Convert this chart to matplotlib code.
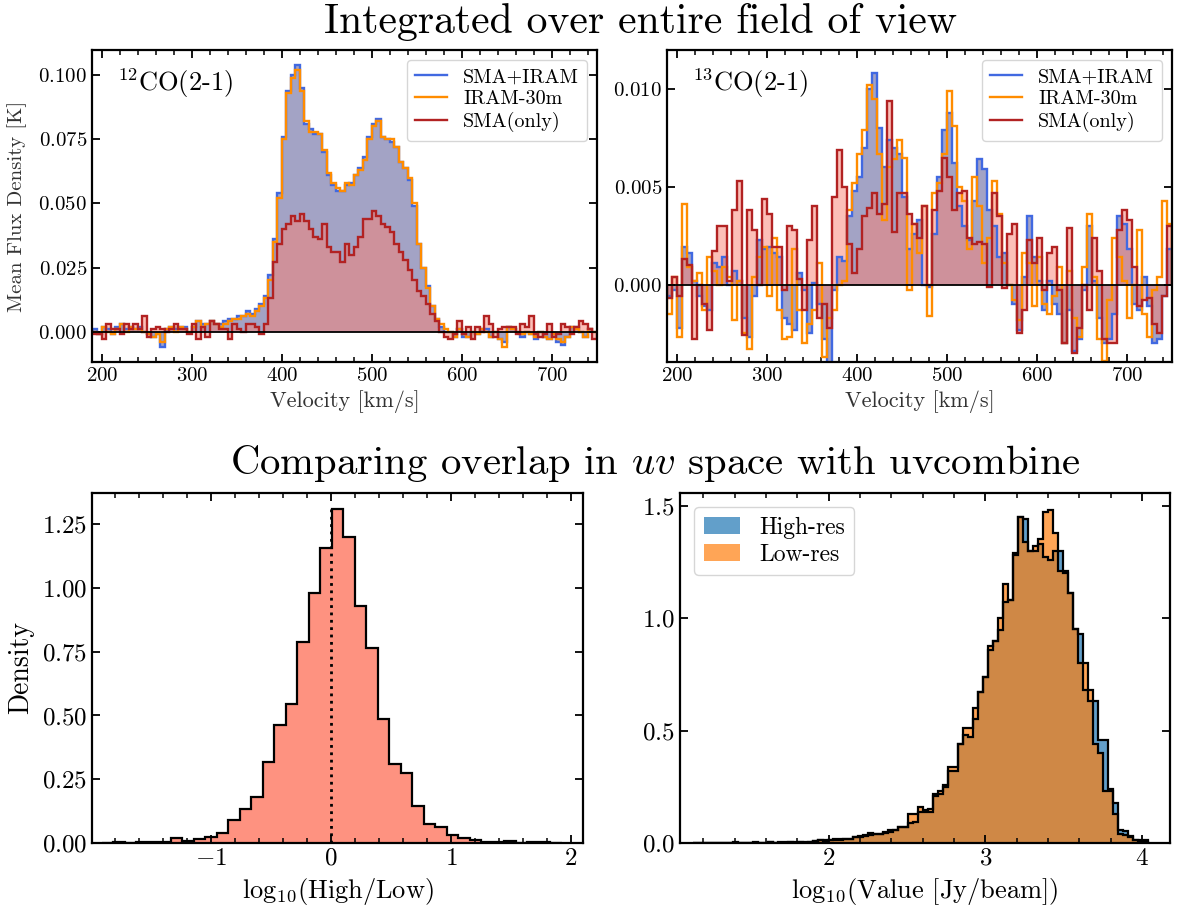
import numpy as np
import matplotlib
matplotlib.use("Agg")
import matplotlib.pyplot as plt
from matplotlib.ticker import MultipleLocator

plt.rcParams.update({
    "font.family": "serif",
    "font.serif": ["cmr10"],
    "mathtext.fontset": "cm",
    "axes.formatter.use_mathtext": True,
    "axes.unicode_minus": True,
})

# ---------------- data ----------------
# 12CO(2-1) spectra, 5 km/s channels from 190 to 750 km/s
co12_vel_start = 190.0
co12_chan_width = 5.0
co12_comb = [
    0.001, -0.001, 0.002, 0.001, -0.001, 0.002, 0.003, 0.001, 0.002, 0.001,
    0.002, 0.000, -0.001, -0.002, -0.001, -0.006, 0.001, 0.002, 0.001, 0.002,
    0.002, 0.000, 0.002, 0.004, 0.003, 0.003, 0.004, 0.003, 0.003, 0.004,
    0.005, 0.005, 0.006, 0.006, 0.008,
    0.007, 0.009, 0.011, 0.014, 0.022, 0.036, 0.054, 0.076, 0.094, 0.100,
    0.104, 0.095, 0.081, 0.079, 0.077, 0.077, 0.070, 0.061, 0.057, 0.055,
    0.055, 0.057, 0.058, 0.061, 0.064, 0.068, 0.076, 0.081, 0.083, 0.076,
    0.075, 0.074, 0.072, 0.066, 0.064, 0.059, 0.049, 0.034, 0.025, 0.018,
    0.010, 0.005, 0.002, 0.000,
    0.000, -0.002, 0.001, -0.002, -0.002, 0.000, -0.001, 0.001, 0.001, -0.002,
    0.000, -0.003, -0.004, 0.002, 0.001, 0.000, -0.002, 0.000, -0.001, -0.003,
    0.000, -0.002, -0.003, -0.001, -0.004, -0.005, -0.002, 0.002, 0.002, 0.000,
    -0.002, 0.001, 0.000,
]
co12_iram = [
    0.000, -0.001, 0.002, 0.000, -0.001, 0.001, 0.003, 0.000, 0.002, 0.001,
    0.001, 0.000, -0.001, -0.002, -0.001, -0.004, 0.001, 0.002, 0.000, 0.002,
    0.001, 0.000, 0.002, 0.004, 0.002, 0.003, 0.004, 0.003, 0.002, 0.003,
    0.004, 0.005, 0.005, 0.006, 0.007,
    0.006, 0.008, 0.010, 0.013, 0.020, 0.035, 0.052, 0.075, 0.093, 0.099,
    0.102, 0.094, 0.082, 0.078, 0.078, 0.077, 0.071, 0.062, 0.058, 0.056,
    0.055, 0.058, 0.057, 0.061, 0.063, 0.067, 0.075, 0.080, 0.082, 0.076,
    0.075, 0.075, 0.072, 0.066, 0.064, 0.060, 0.050, 0.034, 0.025, 0.017,
    0.010, 0.005, 0.003, 0.001,
    0.000, -0.002, 0.001, -0.001, -0.002, 0.000, -0.001, 0.001, 0.000, -0.002,
    0.000, -0.003, -0.006, 0.002, 0.001, 0.000, -0.001, 0.000, -0.001, -0.002,
    0.000, -0.002, -0.003, -0.001, -0.003, -0.004, -0.002, 0.002, 0.001, 0.000,
    -0.002, 0.001, 0.000,
]
co12_sma = [
    -0.001, -0.001, -0.003, 0.003, 0.001, 0.001, -0.001, 0.003, 0.001, 0.003,
    0.001, 0.006, -0.002, 0.001, 0.002, 0.001, 0.000, 0.001, 0.003, 0.001,
    0.001, -0.001, 0.003, -0.003, 0.002, -0.002, 0.004, 0.003, 0.001, 0.001,
    -0.003, 0.003, 0.001, 0.000, 0.003,
    0.003, 0.002, -0.001, 0.003, 0.013, 0.027, 0.034, 0.040, 0.042, 0.045,
    0.043, 0.046, 0.043, 0.040, 0.037, 0.036, 0.042, 0.033, 0.031, 0.031,
    0.027, 0.034, 0.030, 0.033, 0.037, 0.044, 0.044, 0.047, 0.045, 0.042,
    0.041, 0.039, 0.034, 0.031, 0.028, 0.024, 0.020, 0.016, 0.014, 0.011,
    0.007, 0.004, 0.000, -0.002,
    -0.003, -0.001, 0.004, -0.001, 0.002, -0.003, 0.002, 0.000, 0.006, 0.003,
    -0.002, 0.001, 0.002, 0.002, 0.002, -0.001, 0.003, 0.002, 0.006, -0.001,
    -0.002, -0.001, 0.003, -0.002, -0.001, 0.003, 0.002, -0.001, 0.002, 0.004,
    0.003, 0.001, -0.003,
]

# 13CO(2-1) spectra, 101 channels from 189 to 750 km/s
co13_vel_start = 189.0
co13_vel_end = 750.0
co13_comb = [
    -0.0006, -0.0003, -0.0022, 0.0019, 0.0016, 0.0002, -0.0006, -0.0011, -0.0013, 0.0011,
    0.0009, 0.0014, 0.0000, 0.0007, 0.0002, -0.0017, -0.0027, -0.0006, 0.0023, 0.0018,
    0.0019, 0.0016, 0.0014, -0.0017, -0.0020, -0.0023, 0.0006, -0.0003, -0.0025, 0.0001,
    -0.0010, -0.0028, -0.0042, -0.0003, 0.0014, 0.0012, 0.0035, 0.0048, 0.0055, 0.0070,
    0.0100, 0.0108, 0.0080, 0.0060, 0.0074, 0.0070, 0.0067, 0.0045, 0.0018, 0.0026,
    0.0033, 0.0000, -0.0001, 0.0026, 0.0055, 0.0079, 0.0088, 0.0062, 0.0040, 0.0030,
    0.0023, 0.0043, 0.0064, 0.0059, 0.0038, 0.0030, 0.0014, 0.0016, 0.0000, -0.0010,
    -0.0023, 0.0004, 0.0035, 0.0014, 0.0002, -0.0013, 0.0002, -0.0010, -0.0015, -0.0030,
    -0.0013, -0.0034, -0.0028, -0.0003, 0.0030, 0.0002, -0.0017, -0.0030, -0.0028, -0.0015,
    0.0035, 0.0031, 0.0018, -0.0010, -0.0013, 0.0004, -0.0011, -0.0030, -0.0028, -0.0006,
    0.0018,
]
co13_iram = [
    -0.0015, 0.0004, -0.0027, 0.0041, 0.0009, 0.0002, 0.0006, -0.0013, 0.0014, 0.0007,
    0.0000, 0.0009, 0.0004, -0.0018, 0.0002, -0.0025, -0.0033, 0.0004, 0.0014, 0.0019,
    -0.0006, 0.0024, -0.0013, -0.0028, -0.0027, 0.0018, -0.0013, -0.0030, -0.0020, -0.0013,
    0.0011, -0.0037, -0.0017, -0.0013, 0.0000, 0.0002, 0.0038, 0.0052, 0.0067, 0.0079,
    0.0102, 0.0095, 0.0067, 0.0033, 0.0060, 0.0064, 0.0074, 0.0065, -0.0003, 0.0031,
    0.0016, 0.0040, -0.0016, 0.0047, 0.0052, 0.0067, 0.0099, 0.0081, 0.0050, 0.0043,
    0.0018, 0.0055, 0.0040, 0.0011, 0.0024, 0.0053, 0.0036, 0.0011, 0.0000, -0.0008,
    -0.0018, 0.0016, 0.0011, -0.0011, 0.0014, -0.0010, -0.0015, -0.0006, 0.0009, -0.0030,
    0.0007, -0.0017, -0.0027, 0.0009, 0.0036, 0.0004, -0.0028, -0.0039, -0.0008, 0.0024,
    0.0014, 0.0002, -0.0017, 0.0000, 0.0028, -0.0015, -0.0027, -0.0003, 0.0004, 0.0043,
    0.0031,
]
co13_sma = [
    -0.0007, 0.0004, -0.0006, 0.0013, 0.0010, -0.0028, 0.0000, -0.0010, -0.0023, 0.0017,
    0.0030, 0.0030, 0.0002, 0.0038, 0.0053, -0.0026, 0.0038, 0.0028, 0.0000, 0.0044,
    0.0036, 0.0019, 0.0019, -0.0003, 0.0030, 0.0028, 0.0003, -0.0013, 0.0023, 0.0040,
    -0.0017, -0.0010, -0.0022, 0.0045, 0.0069, 0.0050, 0.0021, 0.0006, 0.0018, 0.0035,
    0.0039, 0.0047, 0.0036, 0.0041, 0.0094, 0.0027, 0.0047, 0.0047, 0.0036, 0.0031,
    0.0024, 0.0040, 0.0000, 0.0038, 0.0048, 0.0065, 0.0055, 0.0038, 0.0047, 0.0048,
    0.0024, 0.0021, 0.0022, 0.0021, -0.0001, 0.0047, 0.0035, -0.0002, 0.0026, 0.0031,
    -0.0025, -0.0013, 0.0023, 0.0011, 0.0024, -0.0003, 0.0016, 0.0019, -0.0003, -0.0030,
    0.0029, -0.0035, -0.0022, 0.0000, -0.0013, 0.0024, 0.0007, -0.0028, -0.0030, -0.0030,
    0.0028, 0.0038, 0.0033, 0.0009, -0.0011, -0.0008, -0.0007, -0.0020, -0.0025, -0.0006,
    0.0030,
]

# log10(High/Low) histogram (density)
ratio_bin_start = -1.910
ratio_bin_width = 0.0958
ratio_density = [
    0.001, 0.002, 0.001, 0.002, 0.002, 0.003,
    0.020, 0.008, 0.017, 0.024, 0.039, 0.089, 0.132, 0.182, 0.317, 0.463,
    0.546, 0.789, 0.980, 1.155,
    1.311, 1.201, 0.928, 0.763, 0.487, 0.309, 0.276, 0.147, 0.075, 0.062,
    0.030, 0.020, 0.013, 0.005, 0.003, 0.007, 0.001, 0.004, 0.003, 0.001,
]

# log10(Value [Jy/beam]) histograms (density)
value_bin_start = 1.13
value_bin_width = 0.032
high_res = [
    0.000, 0.001, 0.000, 0.000, 0.001, 0.000, 0.000, 0.001, 0.001, 0.000,
    0.001, 0.000, 0.002, 0.001, 0.000, 0.003, 0.001, 0.002, 0.002, 0.003,
    0.002, 0.004, 0.002, 0.004, 0.010, 0.012, 0.010, 0.012, 0.015, 0.015,
    0.020, 0.020, 0.025, 0.030, 0.035, 0.045, 0.040, 0.040, 0.050, 0.060,
    0.060, 0.070, 0.070, 0.090, 0.095, 0.140, 0.140, 0.140, 0.210, 0.220,
    0.250, 0.320, 0.320, 0.440, 0.480, 0.470, 0.550, 0.670, 0.740, 0.860,
    0.900, 0.945, 1.070, 1.080, 1.280, 1.450, 1.440, 1.300, 1.300, 1.330,
    1.270, 1.260, 1.300, 1.300, 1.210, 1.110, 0.950, 0.930, 0.680, 0.630,
    0.630, 0.460, 0.460, 0.240, 0.180, 0.060, 0.055, 0.030, 0.012, 0.010,
    0.004,
]
low_res = [
    0.000, 0.002, 0.000, 0.001, 0.000, 0.002, 0.000, 0.001, 0.003, 0.000,
    0.002, 0.001, 0.003, 0.002, 0.001, 0.004, 0.002, 0.003, 0.005, 0.003,
    0.004, 0.006, 0.003, 0.005, 0.008, 0.015, 0.012, 0.015, 0.020, 0.020,
    0.020, 0.020, 0.025, 0.027, 0.030, 0.035, 0.040, 0.040, 0.045, 0.050,
    0.060, 0.070, 0.070, 0.130, 0.130, 0.160, 0.145, 0.150, 0.216, 0.230,
    0.256, 0.340, 0.340, 0.440, 0.510, 0.510, 0.600, 0.670, 0.740, 0.876,
    0.900, 1.000, 1.150, 1.080, 1.290, 1.450, 1.340, 1.300, 1.320, 1.350,
    1.470, 1.480, 1.380, 1.210, 1.200, 1.110, 0.950, 0.800, 0.800, 0.680,
    0.440, 0.400, 0.230, 0.230, 0.130, 0.040, 0.035, 0.025, 0.015, 0.012,
    0.012,
]

series_labels = ["SMA+IRAM", "IRAM-30m", "SMA(only)"]
hist_labels = ["High-res", "Low-res"]

# ---------------- figure ----------------
W, H = 1177, 913
fig = plt.figure(figsize=(W / 100, H / 100), dpi=100)


def add_ax(x0, y0, x1, y1):
    return fig.add_axes([x0 / W, 1 - y1 / H, (x1 - x0) / W, (y1 - y0) / H])


ax1 = add_ax(92, 50, 597, 362)
ax2 = add_ax(667, 50, 1172, 362)
ax3 = add_ax(92, 493, 583, 843)
ax4 = add_ax(680, 493, 1170, 843)

co12_edges = co12_vel_start + co12_chan_width * np.arange(len(co12_comb) + 1)
co13_edges = np.linspace(co13_vel_start, co13_vel_end, len(co13_comb) + 1)


def spectrum(ax, edges, comb, iram, sma, name):
    ax.stairs(comb, edges, fill=True, color="midnightblue", alpha=0.4, lw=0, zorder=1)
    ax.stairs(sma, edges, fill=True, color="salmon", alpha=0.5, lw=0, zorder=1.5)
    h1 = ax.stairs(comb, edges, color="royalblue", lw=1.7, label=series_labels[0], zorder=2)
    h2 = ax.stairs(iram, edges, color="darkorange", lw=1.7, label=series_labels[1], zorder=2.1)
    h3 = ax.stairs(sma, edges, color="firebrick", lw=1.7, label=series_labels[2], zorder=2.2)
    ax.axhline(0, color="k", lw=1.3, zorder=3)
    ax.set_xlim(189, 750)
    ax.xaxis.set_major_locator(MultipleLocator(100))
    ax.xaxis.set_minor_locator(MultipleLocator(20))
    ax.set_xlabel("Velocity [km/s]", fontsize=16, color="#333333", labelpad=4)
    ax.text(0.05, 0.895, name, transform=ax.transAxes, fontsize=19, va="center", ha="left")
    leg = ax.legend(handles=[h1, h2, h3], loc="upper right", fontsize=14.5,
                    handlelength=1.6, labelspacing=0.2, borderaxespad=0.5,
                    framealpha=0.8)
    leg.get_frame().set_linewidth(1.0)
    ax.tick_params(labelsize=15)


spectrum(ax1, co12_edges, co12_comb, co12_iram, co12_sma, r"$^{12}$CO(2-1)")
ax1.set_ylim(-0.0118, 0.1098)
ax1.yaxis.set_major_locator(MultipleLocator(0.025))
ax1.set_ylabel("Mean Flux Density [K]", fontsize=15, color="#333333")
ax1.yaxis.set_label_coords(-0.128, 0.5)

spectrum(ax2, co13_edges, co13_comb, co13_iram, co13_sma, r"$^{13}$CO(2-1)")
ax2.set_ylim(-0.00396, 0.0120)
ax2.yaxis.set_major_locator(MultipleLocator(0.005))

# bottom left: ratio histogram
ratio_edges = ratio_bin_start + ratio_bin_width * np.arange(len(ratio_density) + 1)
ax3.stairs(ratio_density, ratio_edges, fill=True, color="#fe9280", lw=0, zorder=1)
ax3.stairs(ratio_density, ratio_edges, color="k", lw=1.6, zorder=2)
ax3.vlines(0, 0, max(ratio_density), colors="k", linestyles=":", lw=2.0, zorder=3)
ax3.set_xlim(-1.99, 2.10)
ax3.set_ylim(0, 1.372)
ax3.xaxis.set_major_locator(MultipleLocator(1))
ax3.xaxis.set_minor_locator(MultipleLocator(0.2))
ax3.yaxis.set_major_locator(MultipleLocator(0.25))
ax3.set_xlabel(r"$\mathrm{log}_{10}$(High/Low)", fontsize=19)
ax3.set_ylabel("Density", fontsize=20)
ax3.yaxis.set_label_coords(-0.118, 0.5)
ax3.tick_params(labelsize=18)

# bottom right: value histograms
value_edges = value_bin_start + value_bin_width * np.arange(len(high_res) + 1)
p1 = ax4.stairs(high_res, value_edges, fill=True, color="C0", alpha=0.7, lw=0,
                label=hist_labels[0], zorder=1)
p2 = ax4.stairs(low_res, value_edges, fill=True, color="C1", alpha=0.7, lw=0,
                label=hist_labels[1], zorder=1.5)
ax4.stairs(high_res, value_edges, color="k", lw=1.6, zorder=2)
ax4.stairs(low_res, value_edges, color="k", lw=1.6, zorder=2.1)
ax4.set_xlim(1.05, 4.18)
ax4.set_ylim(0, 1.556)
ax4.xaxis.set_major_locator(MultipleLocator(1))
ax4.xaxis.set_minor_locator(MultipleLocator(0.2))
ax4.yaxis.set_major_locator(MultipleLocator(0.5))
ax4.set_xlabel(r"$\mathrm{log}_{10}$(Value [Jy/beam])", fontsize=19)
ax4.tick_params(labelsize=18)
leg4 = ax4.legend(handles=[p1, p2], loc="upper left", fontsize=17, handlelength=1.55,
                  labelspacing=0.2, borderaxespad=0.6, framealpha=0.8)

for ax in (ax1, ax2, ax3, ax4):
    ax.tick_params(which="both", direction="in", top=True, right=True)
    ax.tick_params(which="major", length=6, width=1.3)
    ax.tick_params(which="minor", length=3.5, width=1.1)
    for s in ax.spines.values():
        s.set_linewidth(1.6)

fig.text(641 / W, 1 - 22 / H, "Integrated over entire field of view",
         ha="center", va="center", fontsize=30)
fig.text(655 / W, 1 - 463 / H, r"Comparing overlap in $uv$ space with uvcombine",
         ha="center", va="center", fontsize=29.3)

fig.savefig("out.png", dpi=100)
